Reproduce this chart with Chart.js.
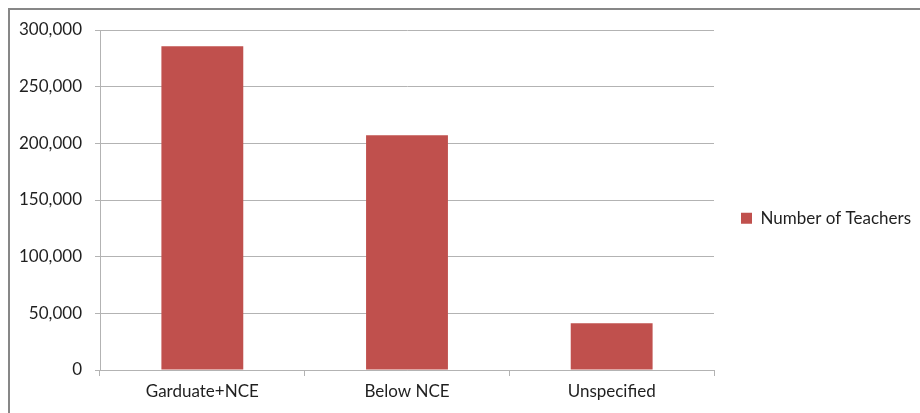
<!DOCTYPE html>
<html>
<head>
<meta charset="utf-8">
<script src="https://cdn.jsdelivr.net/npm/chart.js@4.4.1/dist/chart.umd.min.js"></script>
<style>
  html, body { margin: 0; padding: 0; background: #ffffff; }
  canvas { display: block; }
</style>
</head>
<body>
<canvas id="chart" width="920" height="413"></canvas>
<script>
// Teacher counts by qualification
const categories = ['Garduate+NCE', 'Below NCE', 'Unspecified'];
const teachers = [285600, 207100, 41200];
const seriesLabel = 'Number of Teachers';
const yMin = 0;
const yMax = 300000;
const yStep = 50000;

const TEXT = '#1f1f1f';
const GRID = '#b3b3b3';
const BAR = '#c0504d';
const FONT_SIZE = 17;

// Thin frame along the top and left edges of the canvas
const framePlugin = {
  id: 'frame',
  afterDraw(chart) {
    const ctx = chart.ctx;
    ctx.save();
    ctx.strokeStyle = '#878787';
    ctx.lineWidth = 2;
    ctx.beginPath();
    ctx.moveTo(9, chart.height);
    ctx.lineTo(9, 9);
    ctx.lineTo(chart.width, 9);
    ctx.stroke();
    ctx.restore();
  }
};

Chart.defaults.font.family = 'Lato, "Liberation Sans", sans-serif';
Chart.defaults.font.size = FONT_SIZE;
Chart.defaults.color = TEXT;

const chart = new Chart(document.getElementById('chart'), {
  type: 'bar',
  data: {
    labels: categories,
    datasets: [{
      label: seriesLabel,
      data: teachers,
      backgroundColor: BAR,
      borderWidth: 0,
      categoryPercentage: 1.0,
      barPercentage: 0.4
    }]
  },
  options: {
    responsive: false,
    animation: false,
    layout: { padding: { top: 30, right: 10, bottom: 8, left: 0 } },
    plugins: {
      tooltip: { enabled: false },
      legend: {
        position: 'right',
        labels: {
          boxWidth: 11,
          boxHeight: 11,
          padding: 27,
          color: TEXT,
          font: { size: FONT_SIZE }
        }
      }
    },
    scales: {
      x: {
        offset: true,
        grid: {
          offset: true,
          drawOnChartArea: false,
          drawTicks: true,
          tickLength: 6,
          color: GRID
        },
        border: { display: true, color: GRID },
        ticks: { padding: 5, color: TEXT, font: { size: FONT_SIZE } }
      },
      y: {
        min: yMin,
        max: yMax,
        ticks: {
          stepSize: yStep,
          padding: 13,
          color: TEXT,
          font: { size: FONT_SIZE },
          callback: v => Number(v).toLocaleString('en-US')
        },
        grid: { color: GRID, tickLength: 5, drawTicks: true },
        border: { display: true, color: GRID },
        afterFit(scale) { scale.width = 100; }
      }
    }
  },
  plugins: [framePlugin]
});

// Nudge the layout padding so the plot area sits at x 100..714, y 30..370
for (let i = 0; i < 3; i++) {
  const a = chart.chartArea;
  const p = chart.options.layout.padding;
  p.right += a.right - 714;
  p.top += 30 - a.top;
  p.bottom += a.bottom - 370;
  chart.update('none');
}
</script>
</body>
</html>
